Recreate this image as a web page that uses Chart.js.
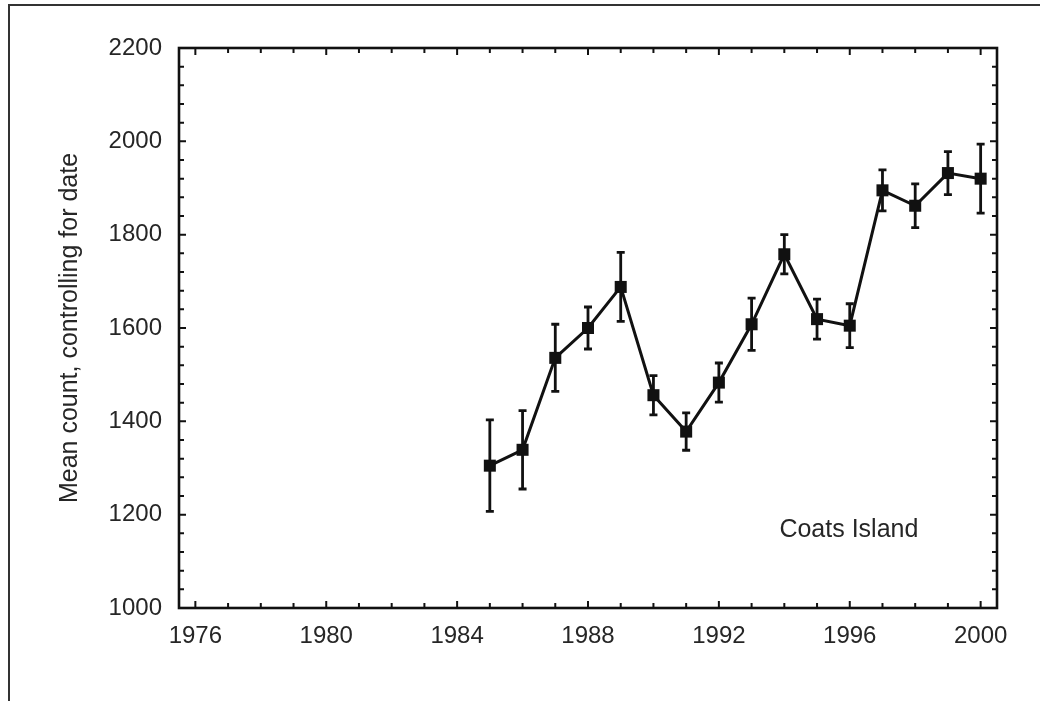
<!DOCTYPE html>
<html>
<head>
<meta charset="utf-8">
<script src="https://cdn.jsdelivr.net/npm/chart.js@4"></script>
<style>
html,body{margin:0;padding:0;background:#fff;}
#wrap{width:1040px;height:701px;}
</style>
</head>
<body>
<div id="wrap"><canvas id="c" width="1040" height="701"></canvas></div>
<script>
// ---- data ----
const years = [1985,1986,1987,1988,1989,1990,1991,1992,1993,1994,1995,1996,1997,1998,1999,2000];
const meanCounts = [1305,1339,1536,1600,1688,1456,1378,1483,1608,1758,1619,1605,1895,1862,1932,1920];
const errors = [98,84,72,45,74,42,40,42,56,42,43,47,44,47,46,74];
const xTickLabels = [1976,1980,1984,1988,1992,1996,2000];
const yTickLabels = [1000,1200,1400,1600,1800,2000,2200];
const panelLabel = 'Coats Island';
const yTitle = 'Mean count, controlling for date';

const FONT = 'Liberation Sans, Arial, sans-serif';
const TXT = '#262626';
const INK = '#111';

const decor = {
  id: 'decor',
  beforeDraw(chart) {
    const ctx = chart.ctx;
    ctx.save();
    ctx.fillStyle = '#fff';
    ctx.fillRect(0, 0, chart.width, chart.height);
    ctx.strokeStyle = '#333';
    ctx.lineWidth = 2;
    ctx.beginPath();
    ctx.moveTo(1040, 5); ctx.lineTo(9, 5); ctx.lineTo(9, 701);
    ctx.stroke();
    ctx.restore();
  },
  beforeDatasetsDraw(chart) {
    const ctx = chart.ctx;
    const xs = chart.scales.x, ys = chart.scales.y;
    ctx.save();
    ctx.strokeStyle = INK;
    ctx.lineWidth = 2.8;
    years.forEach((yr, i) => {
      const px = xs.getPixelForValue(yr);
      const top = ys.getPixelForValue(meanCounts[i] + errors[i]);
      const bot = ys.getPixelForValue(meanCounts[i] - errors[i]);
      ctx.beginPath();
      ctx.moveTo(px, top); ctx.lineTo(px, bot);
      ctx.moveTo(px - 4, top); ctx.lineTo(px + 4, top);
      ctx.moveTo(px - 4, bot); ctx.lineTo(px + 4, bot);
      ctx.stroke();
    });
    ctx.restore();
  },
  afterDraw(chart) {
    const ctx = chart.ctx;
    const a = chart.chartArea;
    const xs = chart.scales.x, ys = chart.scales.y;
    ctx.save();
    ctx.strokeStyle = INK;
    // ticks (inward)
    ctx.lineWidth = 2;
    ctx.beginPath();
    for (let yr = Math.ceil(xs.min); yr <= xs.max; yr++) {
      const px = xs.getPixelForValue(yr);
      const len = xTickLabels.includes(yr) ? 7 : 5;
      ctx.moveTo(px, a.bottom); ctx.lineTo(px, a.bottom - len);
      ctx.moveTo(px, a.top); ctx.lineTo(px, a.top + len);
    }
    for (let v = ys.min + 40; v < ys.max; v += 40) {
      const py = ys.getPixelForValue(v);
      const len = (v % 200 === 0) ? 7 : 5;
      ctx.moveTo(a.left, py); ctx.lineTo(a.left + len, py);
      ctx.moveTo(a.right, py); ctx.lineTo(a.right - len, py);
    }
    ctx.stroke();
    // frame
    ctx.lineWidth = 2.6;
    ctx.strokeRect(a.left, a.top, a.right - a.left, a.bottom - a.top);
    // panel label
    ctx.fillStyle = TXT;
    ctx.font = '25px ' + FONT;
    ctx.textAlign = 'left';
    ctx.textBaseline = 'alphabetic';
    ctx.fillText(panelLabel, xs.getPixelForValue(1993.85), ys.getPixelForValue(1153));
    ctx.restore();
  }
};

new Chart(document.getElementById('c'), {
  type: 'line',
  data: {
    datasets: [{
      data: years.map((y, i) => ({x: y, y: meanCounts[i]})),
      borderColor: INK,
      backgroundColor: INK,
      borderWidth: 3,
      pointStyle: 'rect',
      pointRadius: 8.5,
      pointBorderWidth: 0,
      pointBackgroundColor: INK,
      tension: 0
    }]
  },
  options: {
    responsive: false,
    animation: false,
    devicePixelRatio: 1,
    layout: {padding: {top: 48, right: 43, left: 0, bottom: 0}},
    plugins: {legend: {display: false}, tooltip: {enabled: false}},
    scales: {
      x: {
        type: 'linear',
        min: 1975.5, max: 2000.5,
        grid: {display: false, drawTicks: false},
        border: {display: false},
        afterBuildTicks: s => { s.ticks = xTickLabels.map(v => ({value: v})); },
        afterFit: s => { s.height = 93; },
        ticks: {
          color: TXT, padding: 14, maxRotation: 0, autoSkip: false,
          font: {family: FONT, size: 24},
          callback: v => String(v)
        }
      },
      y: {
        type: 'linear',
        min: 1000, max: 2200,
        grid: {display: false, drawTicks: false},
        border: {display: false},
        afterBuildTicks: s => { s.ticks = yTickLabels.map(v => ({value: v})); },
        afterFit: s => { s.width = 179; },
        ticks: {
          color: TXT, padding: 17,
          font: {family: FONT, size: 24},
          callback: v => String(v)
        },
        title: {
          display: true, text: yTitle, color: TXT,
          font: {family: FONT, size: 25},
          padding: {top: 55, bottom: 0}
        }
      }
    }
  },
  plugins: [decor]
});
</script>
</body>
</html>
